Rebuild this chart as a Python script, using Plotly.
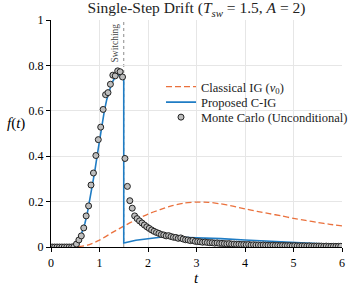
import numpy as np
import plotly.graph_objects as go

# ---- data ----
mc_t = np.round(np.arange(0.025, 6.0, 0.05), 3)
mc_f = [0, 0, 0, 0, 0, 0, 0, 0, 0, 0.002,
        0.013, 0.031, 0.049, 0.084, 0.137, 0.181, 0.273, 0.326, 0.403, 0.473,
        0.528, 0.606, 0.671, 0.680, 0.717, 0.757, 0.754, 0.776, 0.772, 0.749,
        0.390, 0.267, 0.204, 0.171, 0.137, 0.125, 0.115, 0.106, 0.097, 0.089,
        0.082, 0.075, 0.069, 0.064, 0.060, 0.055, 0.053, 0.049, 0.050, 0.046,
        0.043, 0.042, 0.038, 0.040, 0.035, 0.032, 0.031, 0.028, 0.029, 0.025,
        0.024, 0.023, 0.021, 0.022, 0.020, 0.019, 0.019, 0.017, 0.018, 0.016,
        0.016, 0.015, 0.014, 0.015, 0.013, 0.013, 0.012, 0.012, 0.011, 0.011,
        0.010, 0.011, 0.009, 0.010, 0.009, 0.009, 0.008, 0.009, 0.008, 0.008,
        0.007, 0.008, 0.007, 0.007, 0.006, 0.007, 0.006, 0.006, 0.006, 0.005,
        0.006, 0.005, 0.005, 0.005, 0.005, 0.004, 0.005, 0.004, 0.004, 0.004,
        0.004, 0.004, 0.003, 0.004, 0.003, 0.003, 0.003, 0.003, 0.003, 0.003]

cig_t = [0, 0.4, 0.45, 0.5, 0.55, 0.6, 0.65, 0.7, 0.75, 0.8, 0.85, 0.9, 0.95,
         1.0, 1.05, 1.1, 1.15, 1.2, 1.25, 1.3, 1.35, 1.4, 1.45, 1.5, 1.5,
         1.75, 2.0, 2.25, 2.5, 2.75, 3.0, 3.5, 4.0, 4.5, 5.0, 5.5, 6.0]
cig_f = [0, 0, 0.001, 0.006, 0.02, 0.04, 0.068, 0.105, 0.15, 0.205, 0.265, 0.33, 0.4,
         0.47, 0.54, 0.6, 0.65, 0.69, 0.72, 0.74, 0.752, 0.758, 0.76, 0.755, 0.018,
         0.030, 0.038, 0.043, 0.044, 0.043, 0.041, 0.037, 0.031, 0.025, 0.019, 0.014, 0.010]

ig_t = [0, 0.25, 0.5, 0.75, 1.0, 1.25, 1.5, 1.75, 2.0, 2.25, 2.5, 2.75, 3.0, 3.25,
        3.5, 3.75, 4.0, 4.25, 4.5, 4.75, 5.0, 5.25, 5.5, 5.75, 6.0]
ig_f = [0, 0, 0.0005, 0.008, 0.03, 0.062, 0.092, 0.12, 0.145, 0.165, 0.182, 0.194, 0.198, 0.197,
        0.19, 0.18, 0.168, 0.157, 0.147, 0.137, 0.126, 0.117, 0.108, 0.1, 0.093]

t_switch = 1.5
xticks = [0, 1, 2, 3, 4, 5, 6]
yticks = [0, 0.2, 0.4, 0.6, 0.8, 1]
ytick_labels = ["0", "0.2", "0.4", "0.6", "0.8", "1"]

FONT = "Liberation Serif"
ORANGE = "rgba(232,98,40,0.9)"
BLUE = "#1f7cc4"

fig = go.Figure()
fig.add_trace(go.Scatter(x=ig_t, y=ig_f, mode="lines",
                         line=dict(color=ORANGE, width=1.3, dash="6px,3px", shape="spline", smoothing=0.6),
                         name="Classical IG (<i>v</i><sub>0</sub>)", legend="legend", showlegend=True))
fig.add_trace(go.Scatter(x=cig_t, y=cig_f, mode="lines", line=dict(color=BLUE, width=1.6),
                         name="Proposed C-IG", legend="legend2", showlegend=True))
fig.add_trace(go.Scatter(x=mc_t, y=mc_f, mode="markers",
                         marker=dict(size=6, color="#bdbdbd", line=dict(color="#222222", width=1)),
                         name="Monte Carlo (Unconditional)", legend="legend3", showlegend=True))

fig.add_shape(type="line", x0=t_switch, x1=t_switch, y0=0, y1=1, xref="x", yref="y",
              line=dict(color="#8a8a8a", width=1, dash="dot"), layer="below")
fig.add_annotation(x=t_switch, y=0.9, xref="x", yref="y", text="Switching", textangle=-90,
                   showarrow=False, xshift=-9, font=dict(family=FONT, size=9.5, color="#444444"))
fig.add_annotation(x=-0.119, y=0.545, xref="paper", yref="paper", text="<i>f</i>(<i>t</i>)",
                   xanchor="center", yanchor="middle",
                   showarrow=False, font=dict(family=FONT, size=15, color="black"))
fig.add_annotation(x=0.5, y=-0.137, xref="paper", yref="paper", text="<i>t</i>",
                   xanchor="center", yanchor="middle",
                   showarrow=False, font=dict(family=FONT, size=15, color="black"))

leg_common = dict(x=0.378, xanchor="left", yanchor="middle", bgcolor="rgba(0,0,0,0)",
                  font=dict(family=FONT, size=12.5, color="#222"), borderwidth=0)
fig.update_layout(
    width=357, height=285,
    margin=dict(l=51, r=4, t=20, b=38),
    paper_bgcolor="white", plot_bgcolor="white",
    showlegend=True,
    font=dict(family=FONT, size=12, color="black"),
    title=dict(text="Single-Step Drift (<i>T</i><sub><i>sw</i></sub> = 1.5, <i>A</i> = 2)",
               x=0.5, xref="paper", y=0.972, yanchor="middle", xanchor="center",
               font=dict(family=FONT, size=15.5, color="#222")),
    legend=dict(y=(247 - 87) / 227, **leg_common),
    legend2=dict(y=(247 - 102.5) / 227, **leg_common),
    legend3=dict(y=(247 - 117.5) / 227, **leg_common),
    xaxis=dict(range=[0, 6], tickvals=xticks, showgrid=True, gridcolor="#e6e6e6", gridwidth=1,
               showline=True, linecolor="black", linewidth=1.2, ticks="outside", ticklen=4,
               tickcolor="black", zeroline=False, tickfont=dict(family=FONT, size=12)),
    yaxis=dict(range=[0, 1], tickvals=yticks, ticktext=ytick_labels, showgrid=True, gridcolor="#e6e6e6",
               gridwidth=1, showline=True, linecolor="black", linewidth=1.2, ticks="outside", ticklen=4,
               tickcolor="black", zeroline=False, tickfont=dict(family=FONT, size=12)),
)

fig.write_html("out.html", config={"displayModeBar": False},
               post_script="document.body.style.margin='0px';document.body.style.overflow='hidden';")
